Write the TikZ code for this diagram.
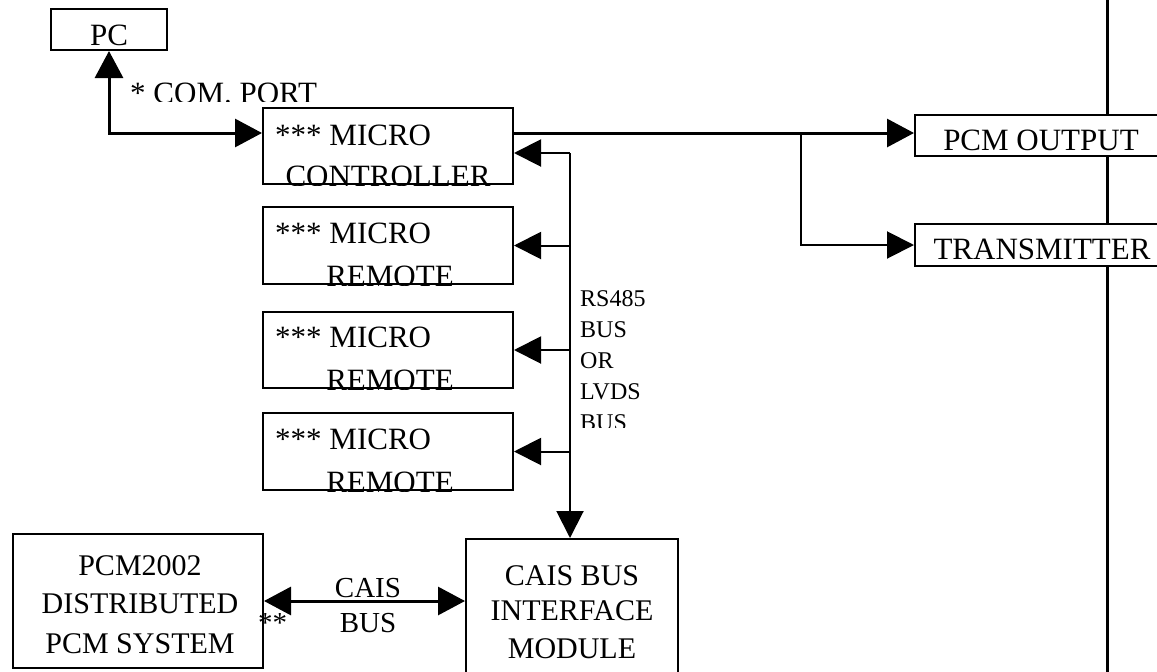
\documentclass[tikz,border=0pt]{standalone}
\usepackage{fontspec}
\setmainfont{Liberation Serif}
\usetikzlibrary{arrows.meta}
\tikzset{
  box/.style={draw, line width=2pt, fill=white, inner sep=0pt},
  txt/.style={inner sep=0pt, font=\fontsize{31}{36}\selectfont},
  txtb/.style={inner sep=0pt, font=\fontsize{30}{36}\selectfont},
  lbl/.style={inner sep=0pt, font=\fontsize{29}{34}\selectfont},
  buslbl/.style={inner sep=0pt, anchor=base west, font=\fontsize{24}{31}\selectfont},
  conn/.style={line width=3pt, >={Triangle[length=27pt,width=28pt]}},
  busl/.style={line width=2pt, >={Triangle[length=27pt,width=27pt]}},
  vline/.style={line width=3pt}
}
\begin{document}
\begin{tikzpicture}[x=1pt,y=-1pt]
\useasboundingbox (0,0) rectangle (1157,672);
\fill[white] (0,0) rectangle (1157,672);

% right vertical line
\coordinate (vt) at (1107,0);
\coordinate (vb) at (1107,672);
\draw[vline] (vt) -- (vb);

% boxes
\node[box, minimum width=116pt, minimum height=41pt] (pc) at (109,29.5) {};
\node[box, minimum width=250pt, minimum height=76pt] (mc) at (388,146) {};
\node[box, minimum width=250pt, minimum height=77pt] (r1) at (388,245.5) {};
\node[box, minimum width=250pt, minimum height=76pt] (r2) at (388,350) {};
\node[box, minimum width=250pt, minimum height=77pt] (r3) at (388,451.5) {};
\node[box, minimum width=253pt, minimum height=41pt] (pcmout) at (1041.5,135.5) {};
\node[box, minimum width=253pt, minimum height=42pt] (tx) at (1041.5,245) {};
\node[box, minimum width=250pt, minimum height=134pt] (pcm) at (138,601) {};
\node[box, minimum width=212pt, minimum height=161pt] (cais) at (572,619.5) {};

% box texts
\node[txt, anchor=base] (pct) at (109,45) {PC};
\begin{scope}
  \clip (mc.north west) rectangle (mc.south east);
  \node[txt, anchor=base west] (mct1) at (275,145) {*** MICRO};
  \node[txt, anchor=base] (mct2) at (388,186) {CONTROLLER};
\end{scope}
\begin{scope}
  \clip (r1.north west) rectangle (r1.south east);
  \node[txt, anchor=base west] (r1t1) at (275,243) {*** MICRO};
  \node[txt, anchor=base] (r1t2) at (390,286) {REMOTE};
\end{scope}
\begin{scope}
  \clip (r2.north west) rectangle (r2.south east);
  \node[txt, anchor=base west] (r2t1) at (275,347) {*** MICRO};
  \node[txt, anchor=base] (r2t2) at (390,390) {REMOTE};
\end{scope}
\begin{scope}
  \clip (r3.north west) rectangle (r3.south east);
  \node[txt, anchor=base west] (r3t1) at (275,449) {*** MICRO};
  \node[txt, anchor=base] (r3t2) at (390,492) {REMOTE};
\end{scope}
\node[txt, anchor=base] (pcmoutt) at (1041,150) {PCM OUTPUT};
\node[txt, anchor=base] (txt1) at (1042,259) {TRANSMITTER};
\node[txtb, anchor=base] (pcmt1) at (140,575) {PCM2002};
\node[txtb, anchor=base] (pcmt2) at (140,613) {DISTRIBUTED};
\node[txtb, anchor=base] (pcmt3) at (140,653) {PCM SYSTEM};
\node[txtb, anchor=base] (caist1) at (572,585) {CAIS BUS};
\node[txtb, anchor=base] (caist2) at (572,620) {INTERFACE};
\node[txtb, anchor=base] (caist3) at (572,658) {MODULE};

% COM port
\draw[conn,<->] (pc.south) |- ([yshift=13pt]mc.west);
\begin{scope}
  \clip (120,60) rectangle (340,101);
  \node[txt, anchor=base west] (com) at (130,103) {* COM. PORT};
\end{scope}

% micro controller outputs
\coordinate (mo) at ([yshift=13pt]mc.east);
\coordinate (j1) at (801,133);
\draw[conn,->] (mo) -- (mo -| pcmout.west);
\draw[busl,->] (j1) |- (tx.west);

% bus
\coordinate (bt) at (570,153);
\draw[busl,->] (bt) -- (bt |- cais.north);
\draw[busl,->] (bt) -- (bt -| mc.east);
\draw[busl,->] (r1.east -| bt) -- (r1.east);
\draw[busl,->] (r2.east -| bt) -- (r2.east);
\draw[busl,->] (r3.east -| bt) -- (r3.east);
\begin{scope}
  \clip (575,270) rectangle (700,427);
  \node[buslbl] (b1) at (580,306) {RS485};
  \node[buslbl] (b2) at (580,337) {BUS};
  \node[buslbl] (b3) at (580,368) {OR};
  \node[buslbl] (b4) at (580,399) {LVDS};
  \node[buslbl] (b5) at (580,430) {BUS};
\end{scope}

% CAIS bus
\draw[conn,<->] (pcm.east) -- (pcm.east -| cais.west);
\node[lbl, anchor=base] (cb1) at (368,597) {CAIS};
\node[lbl, anchor=base] (cb2) at (368,632) {BUS};
\node[lbl, anchor=base west] (ast) at (258,632) {**};
\end{tikzpicture}
\end{document}
